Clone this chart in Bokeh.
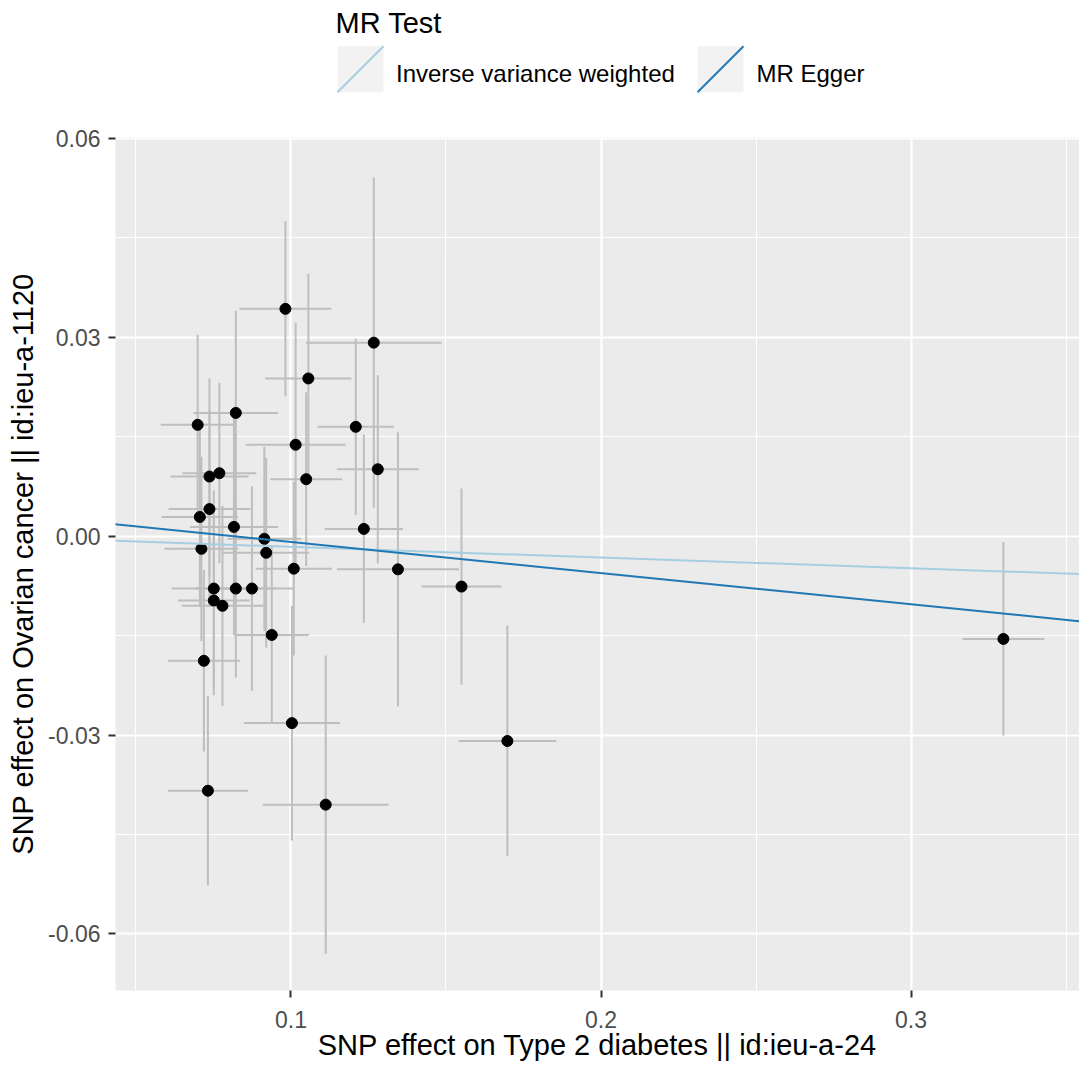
import numpy as np
from bokeh.plotting import figure
from bokeh.models import Range1d, FixedTicker, PrintfTickFormatter, Slope, ColumnDataSource
from bokeh.layouts import column
from bokeh.embed import file_html
from bokeh.resources import INLINE
from bokeh.core.properties import value

# ---------------- data ----------------
snp_beta_exposure = [0.0699, 0.0982, 0.1267, 0.1056, 0.0822, 0.1209, 0.1015, 0.0769,
                     0.0737, 0.1280, 0.1049, 0.0737, 0.0706, 0.0816, 0.1235, 0.0914,
                     0.0920, 0.0711, 0.1009, 0.1345, 0.0751, 0.0822, 0.0874, 0.0751,
                     0.0779, 0.1550, 0.0938, 0.0719, 0.1003, 0.1698, 0.0732, 0.1112,
                     0.3298]
snp_beta_outcome = [0.0168, 0.0343, 0.0292, 0.0238, 0.0186, 0.0165, 0.0138, 0.0095,
                    0.0090, 0.0101, 0.0086, 0.0041, 0.0029, 0.0014, 0.0011, -0.0004,
                    -0.0025, -0.0019, -0.0049, -0.0050, -0.0079, -0.0079, -0.0079, -0.0097,
                    -0.0105, -0.0076, -0.0149, -0.0188, -0.0282, -0.0309, -0.0384, -0.0405,
                    -0.0155]
snp_se_exposure = [0.0119, 0.0148, 0.0219, 0.0139, 0.0136, 0.0123, 0.0161, 0.0119,
                   0.0126, 0.0132, 0.0116, 0.0132, 0.0123, 0.0142, 0.0126, 0.0119,
                   0.0139, 0.0119, 0.0123, 0.0197, 0.0136, 0.0129, 0.0136, 0.0116,
                   0.0132, 0.0129, 0.0119, 0.0116, 0.0155, 0.0158, 0.0129, 0.0203,
                   0.0132]
snp_se_outcome = [0.0136, 0.0132, 0.0249, 0.0158, 0.0154, 0.0133, 0.0184, 0.0136,
                  0.0148, 0.0142, 0.0131, 0.0148, 0.0136, 0.0164, 0.0142, 0.0139,
                  0.0143, 0.0139, 0.0131, 0.0207, 0.0148, 0.0134, 0.0154, 0.0143,
                  0.0151, 0.0148, 0.0133, 0.0137, 0.0177, 0.0174, 0.0143, 0.0225,
                  0.0146]

methods = ["Inverse variance weighted", "MR Egger"]
method_slope = [-0.0161, -0.0470]
method_intercept = [0.0, 0.00383]

x_ticks = [0.1, 0.2, 0.3]
y_ticks = [-0.06, -0.03, 0.0, 0.03, 0.06]
x_title = "SNP effect on Type 2 diabetes || id:ieu-a-24"
y_title = "SNP effect on Ovarian cancer || id:ieu-a-1120"
legend_title = "MR Test"

# ---------------- layout / styles ----------------
method_color = ["#a6cee3", "#1f78b4"]
FONT = "Liberation Sans"
W = 1079
LEG_H = 100
MAIN_H = 968
BL, BR, BT, BB = 115, 0, 37, 78
X0, X1 = 0.04339, 0.35435
Y0, Y1 = -0.06854, 0.06015

bx = np.array(snp_beta_exposure)
by = np.array(snp_beta_outcome)
sx = np.array(snp_se_exposure)
sy = np.array(snp_se_outcome)
src = ColumnDataSource(dict(x=bx, y=by, xl=bx - sx, xr=bx + sx, yl=by - sy, yu=by + sy))

p = figure(width=W, height=MAIN_H, x_range=Range1d(X0, X1), y_range=Range1d(Y0, Y1),
           output_backend="svg", toolbar_location=None,
           min_border_left=BL, min_border_right=BR, min_border_top=BT, min_border_bottom=BB)
p.background_fill_color = "#ebebeb"
p.border_fill_color = "white"
p.outline_line_color = None

def minors(t):
    step = t[1] - t[0]
    return [v - step / 2 for v in t] + [t[-1] + step / 2]

p.xaxis.ticker = FixedTicker(ticks=x_ticks, minor_ticks=minors(x_ticks))
p.yaxis.ticker = FixedTicker(ticks=y_ticks, minor_ticks=minors(y_ticks))
p.xaxis.formatter = PrintfTickFormatter(format="%.1f")
p.yaxis.formatter = PrintfTickFormatter(format="%.2f")

for g in (p.xgrid, p.ygrid):
    g.grid_line_color = "white"
    g.grid_line_width = 2.2
    g.minor_grid_line_color = "white"
    g.minor_grid_line_width = 1.1

for ax in (p.xaxis, p.yaxis):
    ax.axis_line_color = None
    ax.major_tick_line_color = "#333333"
    ax.major_tick_line_width = 2
    ax.major_tick_out = 7
    ax.major_tick_in = 0
    ax.minor_tick_out = 0
    ax.minor_tick_in = 0
    ax.major_label_text_font = FONT
    ax.major_label_text_font_size = "23px"
    ax.major_label_text_color = "#4d4d4d"
    ax.axis_label_text_font = FONT
    ax.axis_label_text_font_size = "29px"
    ax.axis_label_text_font_style = "normal"
    ax.axis_label_text_color = "black"

p.xaxis.axis_label = x_title
p.yaxis.axis_label = y_title
p.xaxis.major_label_standoff = 13
p.xaxis.axis_label_standoff = -2
p.yaxis.major_label_standoff = 8
p.yaxis.axis_label_standoff = 6

p.segment(x0="xl", y0="y", x1="xr", y1="y", source=src, line_color="#bebebe", line_width=2)
p.segment(x0="x", y0="yl", x1="x", y1="yu", source=src, line_color="#bebebe", line_width=2)
p.scatter(x="x", y="y", source=src, size=11, fill_color="black", line_color="black")

for m, s, b, c in zip(methods, method_slope, method_intercept, method_color):
    p.add_layout(Slope(gradient=s, y_intercept=b, line_color=c, line_width=2))

# ---------------- legend strip above the panel (coordinates are pixels) ----------------
lg = figure(width=W, height=LEG_H, x_range=Range1d(BL, W - BR), y_range=Range1d(LEG_H, 0),
            output_backend="svg", toolbar_location=None,
            min_border_left=BL, min_border_right=BR, min_border_top=0, min_border_bottom=0,
            x_axis_location=None, y_axis_location=None)
lg.grid.visible = False
lg.outline_line_color = None
lg.background_fill_color = "white"
lg.border_fill_color = "white"

key_left = np.array([337.0, 697.0])
key_size = 46.0
key_top = 45.7
lg.quad(left=key_left, right=key_left + key_size, top=key_top, bottom=key_top + key_size,
        fill_color="#f2f2f2", line_color=None)
lg.segment(x0=key_left, y0=key_top + key_size, x1=key_left + key_size, y1=key_top,
           line_color=method_color, line_width=2)
lg.text(x=[395.5, 756.0], y=[72.7, 72.7], text=methods, text_font=value(FONT),
        text_font_size="24px", text_color="black", text_baseline="alphabetic",
        text_align="left")
lg.text(x=[335.0], y=[22.5], text=[legend_title], text_font=value(FONT),
        text_font_size="29px", text_color="black", text_baseline="alphabetic",
        text_align="left")

layout = column(lg, p, spacing=0)
open("out.html", "w").write(file_html(layout, INLINE))
